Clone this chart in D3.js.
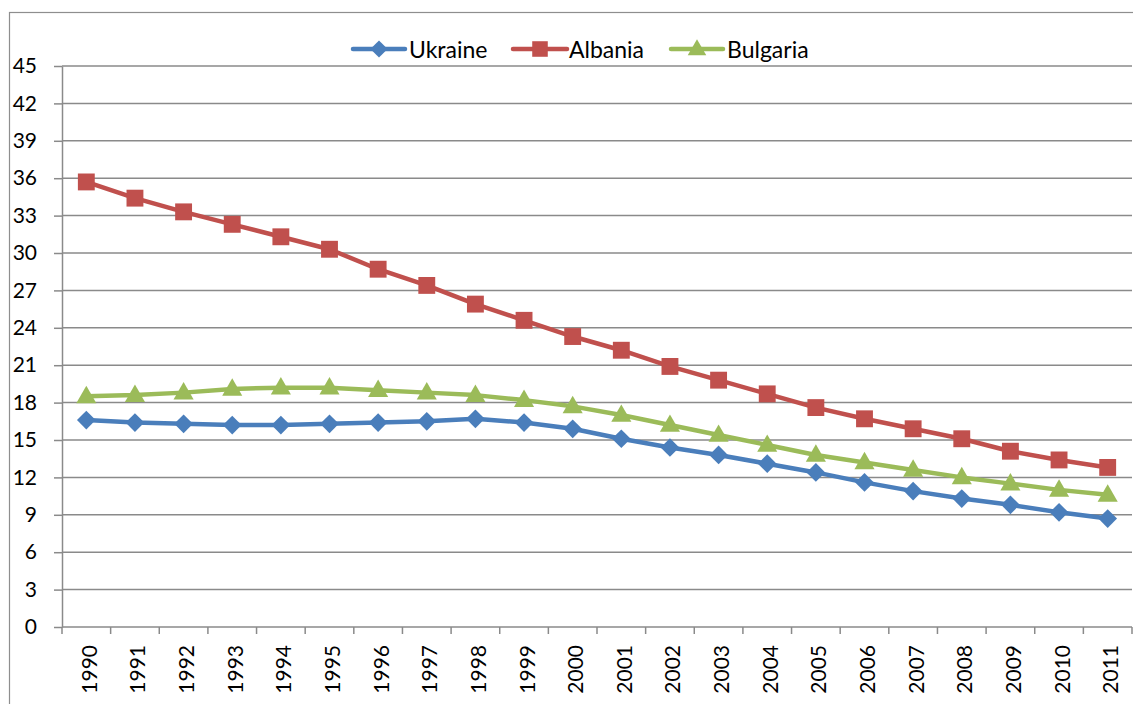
<!DOCTYPE html>
<html>
<head>
<meta charset="utf-8">
<script src="https://cdn.jsdelivr.net/npm/d3@7"></script>
<style>
  html, body { margin: 0; padding: 0; background: #fff; }
  svg { display: block; font-family: Lato, "Liberation Sans", sans-serif; }
</style>
</head>
<body>
<svg id="chart" width="1133" height="704"></svg>
<script>
// Years on the category axis
const years = ["1990","1991","1992","1993","1994","1995","1996","1997","1998","1999","2000",
               "2001","2002","2003","2004","2005","2006","2007","2008","2009","2010","2011"];

// Series values
const ukraine  = [16.6,16.4,16.3,16.2,16.2,16.3,16.4,16.5,16.7,16.4,15.9,15.1,14.4,13.8,13.1,12.4,11.6,10.9,10.3,9.8,9.2,8.7];
const albania  = [35.7,34.4,33.3,32.3,31.3,30.3,28.7,27.4,25.9,24.6,23.3,22.2,20.9,19.8,18.7,17.6,16.7,15.9,15.1,14.1,13.4,12.8];
const bulgaria = [18.5,18.6,18.8,19.1,19.2,19.2,19.0,18.8,18.6,18.2,17.7,17.0,16.2,15.4,14.6,13.8,13.2,12.6,12.0,11.5,11.0,10.6];

// Value-axis tick labels
const yTicks = [0,3,6,9,12,15,18,21,24,27,30,33,36,39,42,45];

const seriesNames = ["Ukraine","Albania","Bulgaria"];

const series = [
  { name: seriesNames[0], values: ukraine,  color: "#4a7ebb", symbol: "diamond" },
  { name: seriesNames[1], values: albania,  color: "#c0504d", symbol: "square" },
  { name: seriesNames[2], values: bulgaria, color: "#9bbb59", symbol: "triangle" }
];

const svg = d3.select("#chart");
const plotL = 62, plotR = 1132, plotT = 66, plotB = 627;
const gridColor = "#8a8a8a";
const axisFont = 21, legendFont = 23;

// outer chart frame
svg.append("rect")
  .attr("x", 9.5).attr("y", 12.5)
  .attr("width", 1140).attr("height", 720)
  .attr("fill", "none").attr("stroke", "#8e8e8e").attr("stroke-width", 1.2);

const x = d3.scaleBand().domain(years).range([plotL, plotR]).paddingInner(0).paddingOuter(0);
const y = d3.scaleLinear().domain([0, 45]).range([plotB, plotT]);

// horizontal gridlines
svg.append("g")
  .selectAll("line")
  .data(yTicks.filter(t => t > 0))
  .join("line")
  .attr("x1", plotL).attr("x2", plotR)
  .attr("y1", d => y(d)).attr("y2", d => y(d))
  .attr("stroke", gridColor).attr("stroke-width", 1.5);

// value axis
const yAxis = svg.append("g")
  .attr("transform", `translate(${plotL},0)`)
  .call(d3.axisLeft(y).tickValues(yTicks).tickSize(8).tickPadding(17).tickSizeOuter(0));
yAxis.select(".domain").attr("stroke", gridColor).attr("stroke-width", 1.5);
yAxis.selectAll(".tick line").attr("stroke", gridColor).attr("stroke-width", 1.5);
yAxis.selectAll(".tick text")
  .attr("font-size", axisFont).attr("fill", "#000")
  .attr("font-family", "Lato, 'Liberation Sans', sans-serif");

// category axis with ticks between categories
const xAxisG = svg.append("g").attr("transform", `translate(0,${plotB})`);
xAxisG.append("line")
  .attr("x1", plotL).attr("x2", plotR).attr("y1", 0).attr("y2", 0)
  .attr("stroke", gridColor).attr("stroke-width", 1.5);
xAxisG.selectAll("line.tk")
  .data(years.concat(["end"]))
  .join("line")
  .attr("class", "tk")
  .attr("x1", (d, i) => plotL + i * x.step()).attr("x2", (d, i) => plotL + i * x.step())
  .attr("y1", 0).attr("y2", 7)
  .attr("stroke", gridColor).attr("stroke-width", 1.5);
xAxisG.selectAll("text")
  .data(years)
  .join("text")
  .attr("transform", d => `translate(${x(d) + x.bandwidth() / 2 + 2},18) rotate(-90)`)
  .attr("text-anchor", "end")
  .attr("dominant-baseline", "central")
  .attr("font-size", axisFont)
  .attr("fill", "#000")
  .text(d => d);

// lines and markers
const line = d3.line()
  .x((d, i) => x(years[i]) + x.bandwidth() / 2)
  .y(d => y(d));

// diamond drawn as a square turned 45 degrees
const symbolType = { diamond: d3.symbolSquare, square: d3.symbolSquare, triangle: d3.symbolTriangle };
const symbolSize = { diamond: 175, square: 285, triangle: 175 };
const symbolRot = { diamond: 45, square: 0, triangle: 0 };

series.forEach(s => {
  svg.append("path")
    .datum(s.values)
    .attr("d", line)
    .attr("fill", "none")
    .attr("stroke", s.color)
    .attr("stroke-width", 4.5)
    .attr("stroke-linejoin", "round")
    .attr("stroke-linecap", "round");
  const sym = d3.symbol().type(symbolType[s.symbol]).size(symbolSize[s.symbol]);
  svg.append("g")
    .selectAll("path")
    .data(s.values)
    .join("path")
    .attr("transform", (d, i) => `translate(${x(years[i]) + x.bandwidth() / 2},${y(d) + (s.symbol === "triangle" ? 1 : 0)}) rotate(${symbolRot[s.symbol]})`)
    .attr("d", sym)
    .attr("fill", s.color);
});

// legend
const legendItems = [
  { s: series[0], x1: 353, x2: 405, tx: 409 },
  { s: series[1], x1: 513, x2: 567, tx: 569 },
  { s: series[2], x1: 671, x2: 723, tx: 727 }
];
const legendY = 49;
const lg = svg.append("g");
legendItems.forEach(it => {
  lg.append("line")
    .attr("x1", it.x1).attr("x2", it.x2).attr("y1", legendY).attr("y2", legendY)
    .attr("stroke", it.s.color).attr("stroke-width", 4.5).attr("stroke-linecap", "round");
  const sym = d3.symbol().type(symbolType[it.s.symbol]).size(symbolSize[it.s.symbol] * 0.85);
  lg.append("path")
    .attr("transform", `translate(${(it.x1 + it.x2) / 2},${legendY + (it.s.symbol === "triangle" ? 1 : 0)}) rotate(${symbolRot[it.s.symbol]})`)
    .attr("d", sym)
    .attr("fill", it.s.color);
  lg.append("text")
    .attr("x", it.tx).attr("y", legendY)
    .attr("dominant-baseline", "central")
    .attr("font-size", legendFont)
    .attr("fill", "#000")
    .text(it.s.name);
});
</script>
</body>
</html>
